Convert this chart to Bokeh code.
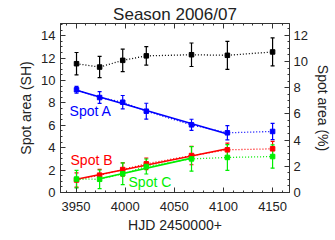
import numpy as np
from bokeh.plotting import figure
from bokeh.models import (Range1d, LinearAxis, SingleIntervalTicker, ColumnDataSource,
                          Whisker, TeeHead, Label, CustomJSTickFormatter)
from bokeh.embed import file_html
from bokeh.resources import INLINE

# ---- data ----
hjd = [3950.5, 3974.0, 3997.5, 4021.5, 4067.5, 4104.0, 4150.0]

total = [11.5, 11.2, 11.8, 12.2, 12.3, 12.25, 12.55]
total_err = [1.0, 0.95, 1.0, 0.82, 1.05, 1.25, 1.25]

spot_a = [9.17, 8.48, 8.06, 7.26, 6.04, 5.33, 5.45]
spot_a_err = [0.31, 0.52, 0.6, 0.71, 0.5, 0.64, 0.73]

spot_b = [1.12, 1.55, 2.05, 2.56, 3.30, 3.81, 3.9]
spot_b_err = [0.64, 0.52, 0.6, 0.52, 0.82, 0.6, 0.67]

spot_c = [1.2, 1.18, 1.67, 2.32, 3.0, 3.13, 3.21]
spot_c_err = [0.78, 0.83, 0.97, 0.67, 1.1, 1.15, 1.04]

# index ranges used for linear fits (first, last inclusive)
fit_a = (0, 5)
fit_b = (0, 5)
fit_c = (1, 4)

title_text = "Season 2006/07"
x_label = "HJD 2450000+"
y_label = "Spot area (SH)"
y2_label = "Spot area (%)"
spot_names = ["Spot A", "Spot B", "Spot C"]

FONT = "Liberation Sans"
BLUE, RED, GREEN, BLACK = "#0000ff", "#ff0000", "#00ee00", "#000000"
AX = "#333333"

p = figure(frame_width=229, frame_height=169,
           min_border_left=60, min_border_right=45,
           min_border_top=23, min_border_bottom=47,
           x_range=Range1d(3934.2, 4167.2), y_range=Range1d(0, 15.09),
           output_backend="svg", toolbar_location=None, x_axis_type=None, y_axis_type=None)
p.title.text = title_text
p.title.align = "center"
p.title.text_font = FONT
p.title.text_font_size = "17px"
p.title.text_font_style = "normal"
p.title.text_color = "#222222"
p.title.standoff = 0
p.title.offset = 0
p.outline_line_color = AX
p.outline_line_width = 1
p.xgrid.visible = False
p.ygrid.visible = False
p.background_fill_color = "white"
p.border_fill_color = "white"
p.extra_y_ranges = {"pct": Range1d(0, 12.9)}


def style_axis(ax, size="13px"):
    ax.axis_line_color = AX
    ax.major_tick_line_color = AX
    ax.minor_tick_line_color = AX
    ax.major_tick_in = 5
    ax.major_tick_out = 0
    ax.minor_tick_in = 2
    ax.minor_tick_out = 0
    ax.major_label_text_font = FONT
    ax.major_label_text_font_size = size
    ax.major_label_text_color = "#222222"
    ax.axis_label_text_font = FONT
    ax.axis_label_text_font_size = "14px"
    ax.axis_label_text_font_style = "normal"
    ax.axis_label_text_color = "#222222"


xb = LinearAxis(ticker=SingleIntervalTicker(interval=50, num_minor_ticks=5), axis_label=x_label)
style_axis(xb)
xb.major_label_standoff = 9
xb.axis_label_standoff = 3
p.add_layout(xb, "below")

xt = LinearAxis(ticker=SingleIntervalTicker(interval=50, num_minor_ticks=5),
                formatter=CustomJSTickFormatter(code="return ''"))
style_axis(xt)
xt.major_label_standoff = 0
p.add_layout(xt, "above")

yl = LinearAxis(ticker=SingleIntervalTicker(interval=2, num_minor_ticks=4), axis_label=y_label)
style_axis(yl)
yl.major_label_standoff = 5
yl.axis_label_standoff = 4
p.add_layout(yl, "left")

yr = LinearAxis(y_range_name="pct", ticker=SingleIntervalTicker(interval=2, num_minor_ticks=4),
                axis_label=y2_label)
style_axis(yr)
yr.major_label_standoff = 4
yr.axis_label_standoff = 4
p.add_layout(yr, "right")

series = [(total, total_err, BLACK, None),
          (spot_a, spot_a_err, BLUE, fit_a),
          (spot_b, spot_b_err, RED, fit_b),
          (spot_c, spot_c_err, GREEN, fit_c)]

for vals, errs, col, fit in series:
    v = np.array(vals)
    e = np.array(errs)
    src = ColumnDataSource(dict(x=hjd, y=vals, lo=list(v - e), hi=list(v + e)))
    p.line("x", "y", source=src, line_color=col, line_dash="1 2", line_width=1.3)
    if fit is not None:
        i0, i1 = fit
        xs = np.array(hjd[i0:i1 + 1])
        k, b = np.polyfit(xs, v[i0:i1 + 1], 1)
        p.line([xs[0], xs[-1]], [k * xs[0] + b, k * xs[-1] + b], line_color=col, line_width=1.6)
    p.add_layout(Whisker(base="x", lower="lo", upper="hi", source=src, line_color=col, line_width=1.2,
                         lower_head=TeeHead(size=4, line_color=col, line_width=1.2),
                         upper_head=TeeHead(size=4, line_color=col, line_width=1.2)))
    p.scatter("x", "y", source=src, marker="square", size=4.5, fill_color=col, line_color=col)

# series name labels
label_pos = [(3943.4, 7.32, BLUE), (3944.4, 2.86, RED), (4003.4, 0.98, GREEN)]
for name, (lx, ly, col) in zip(spot_names, label_pos):
    p.add_layout(Label(x=lx, y=ly, text=name, text_color=col, text_font=FONT,
                       text_font_size="14px", text_baseline="middle", text_align="left"))

open("out.html", "w").write(file_html(p, INLINE))
